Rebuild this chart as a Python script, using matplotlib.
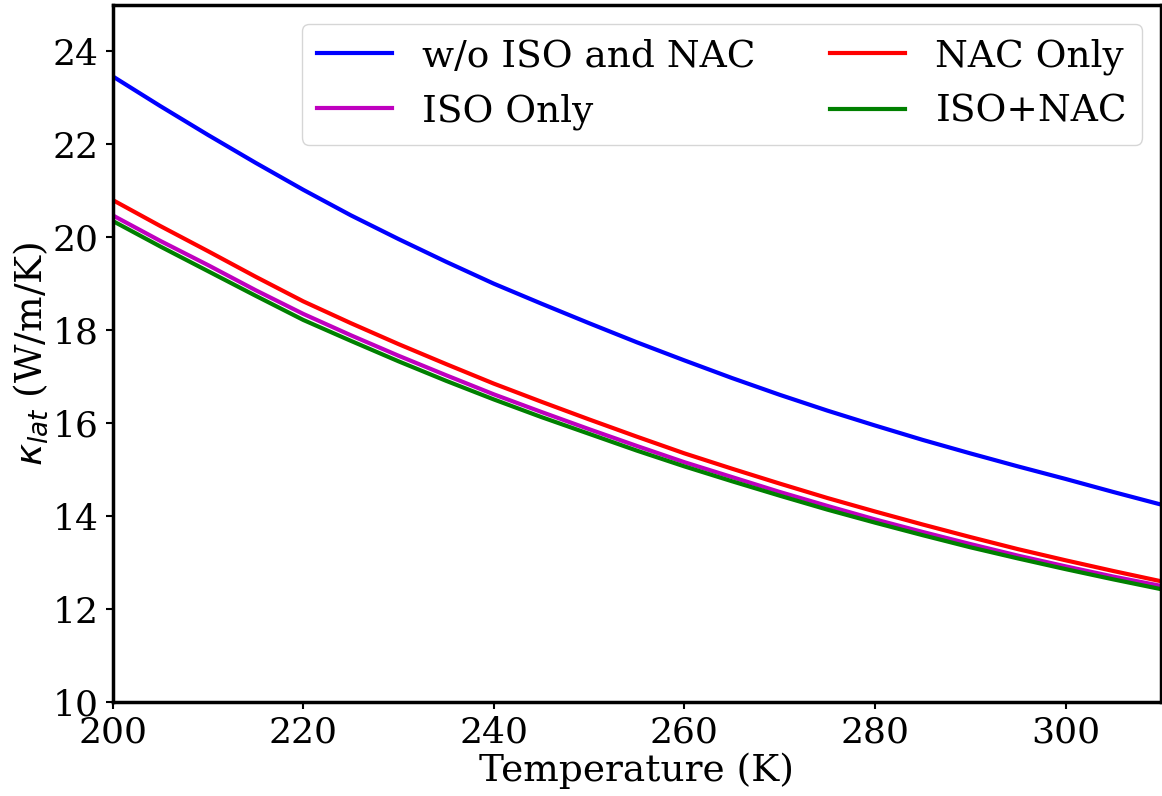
import numpy as np
import matplotlib.pyplot as plt

# Temperature grid (K) and lattice thermal conductivity (W/m/K)
temperature = [200, 205, 210, 215, 220, 225, 230, 235, 240, 245, 250, 255,
               260, 265, 270, 275, 280, 285, 290, 295, 300, 305, 310]
k_none = [23.46, 22.82, 22.2, 21.6, 21.02, 20.47, 19.96, 19.47, 19.0, 18.57, 18.15, 17.74,
          17.35, 16.97, 16.61, 16.27, 15.95, 15.64, 15.35, 15.07, 14.8, 14.52, 14.25]
k_nac = [20.8, 20.24, 19.7, 19.15, 18.62, 18.15, 17.7, 17.27, 16.85, 16.46, 16.08, 15.71,
         15.35, 15.02, 14.7, 14.39, 14.1, 13.82, 13.55, 13.29, 13.05, 12.82, 12.6]
k_iso = [20.47, 19.92, 19.4, 18.86, 18.35, 17.89, 17.45, 17.03, 16.62, 16.24, 15.87, 15.51,
         15.16, 14.84, 14.52, 14.22, 13.93, 13.66, 13.4, 13.15, 12.92, 12.7, 12.5]
k_both = [20.35, 19.8, 19.27, 18.74, 18.22, 17.77, 17.33, 16.91, 16.51, 16.13, 15.77, 15.41,
          15.07, 14.75, 14.44, 14.14, 13.86, 13.59, 13.33, 13.09, 12.86, 12.64, 12.43]

plt.rcParams['font.family'] = 'DejaVu Serif'
plt.rcParams['mathtext.fontset'] = 'dejavusans'

fig = plt.figure(figsize=(11.62, 7.96), dpi=100)
ax = fig.add_axes([0.097, 0.118, 0.902, 0.876])

ax.plot(temperature, k_none, color='b', lw=3, label='w/o ISO and NAC')
ax.plot(temperature, k_iso, color='m', lw=3, label='ISO Only')
ax.plot(temperature, k_nac, color='r', lw=3, label='NAC Only')
ax.plot(temperature, k_both, color='g', lw=3, label='ISO+NAC')

ax.set_xlim(200, 310)
ax.set_ylim(10, 25)
ax.set_xticks([200, 220, 240, 260, 280, 300])
ax.set_yticks([10, 12, 14, 16, 18, 20, 22, 24])
ax.tick_params(labelsize=26, width=1.5, length=5, pad=5)
for s in ax.spines.values():
    s.set_linewidth(2.5)

ax.set_xlabel('Temperature (K)', fontsize=27, labelpad=2)
ax.set_ylabel(r'$\kappa_{lat}$ (W/m/K)', fontsize=27, labelpad=2)

# columns read: none, iso | nac, both
ax.legend(ncol=2, loc='upper right', fontsize=27)

fig.savefig('out.png', dpi=100)
